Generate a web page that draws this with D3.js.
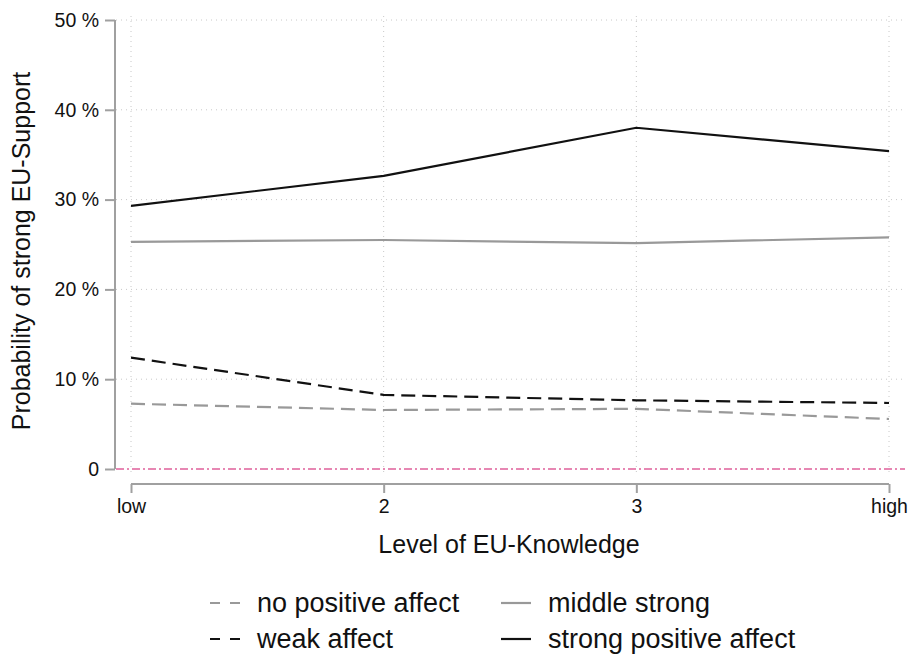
<!DOCTYPE html>
<html><head><meta charset="utf-8">
<script src="https://cdn.jsdelivr.net/npm/d3@7"></script>
<style>body{margin:0;background:#fff}svg{display:block}text{font-family:"Liberation Sans",Arial,sans-serif;fill:#111}</style>
</head><body>
<script>
const categories = ["low", "2", "3", "high"];
const yTicks = [0, 10, 20, 30, 40, 50];
const seriesNames = ["no positive affect", "middle strong", "weak affect", "strong positive affect"];
const noPositive = [7.27, 6.57, 6.7, 5.57];
const middleStrong = [25.3, 25.5, 25.15, 25.8];
const weakAffect = [12.4, 8.25, 7.65, 7.35];
const strongPositive = [29.3, 32.65, 38.0, 35.4];

const W = 911, H = 656;
const FONT = '"Liberation Sans",Arial,sans-serif';
const svg = d3.select("body").append("svg").attr("width", W).attr("height", H);
const x = d3.scalePoint().domain(categories).range([131, 889]);
const y = d3.scaleLinear().domain([0, 50]).range([469, 20]);

// grid
const g = svg.append("g");
g.selectAll(".hg").data(yTicks.filter(d => d > 0)).enter().append("line")
  .attr("x1", 116).attr("x2", 905).attr("y1", d => y(d)).attr("y2", d => y(d))
  .attr("stroke", "#c8c8c8").attr("stroke-width", 1).attr("stroke-dasharray", "1,4");
g.selectAll(".vg").data(categories).enter().append("line")
  .attr("x1", d => x(d)).attr("x2", d => x(d)).attr("y1", 16).attr("y2", 476)
  .attr("stroke", "#c8c8c8").attr("stroke-width", 1).attr("stroke-dasharray", "1,4");

// y axis
const yAxis = svg.append("g").attr("transform", "translate(115,0)")
  .call(d3.axisLeft(y).tickValues(yTicks).tickSize(10).tickPadding(6)
    .tickFormat(d => d === 0 ? "0" : d + " %"));
yAxis.select(".domain").attr("stroke", "#a0a0a0").attr("stroke-width", 2).attr("d", `M0,${y(50)}V${y(0)}`);
yAxis.selectAll(".tick line").attr("stroke", "#a0a0a0").attr("stroke-width", 2);
yAxis.selectAll(".tick text").attr("font-size", 19.5).style("font-family", FONT).attr("fill", "#111");

// x axis
const xAxis = svg.append("g").attr("transform", "translate(0,484)")
  .call(d3.axisBottom(x).tickSize(9).tickPadding(6));
xAxis.select(".domain").attr("stroke", "#a0a0a0").attr("stroke-width", 2).attr("d", `M${x("low")},0H${x("high")}`);
xAxis.selectAll(".tick line").attr("stroke", "#a0a0a0").attr("stroke-width", 2);
xAxis.selectAll(".tick text").attr("font-size", 19.5).style("font-family", FONT).attr("fill", "#111");

// zero reference line
svg.append("line").attr("x1", 116).attr("x2", 905).attr("y1", y(0)).attr("y2", y(0))
  .attr("stroke", "#e0609a").attr("stroke-width", 1.3).attr("stroke-dasharray", "8,3,2,3");

// axis titles
svg.append("text").attr("x", 509).attr("y", 553).attr("text-anchor", "middle").attr("font-size", 25).text("Level of EU-Knowledge");
svg.append("text").attr("transform", "translate(30,251) rotate(-90)").attr("text-anchor", "middle").attr("font-size", 25).text("Probability of strong EU-Support");

const series = [
  {name: seriesNames[0], vals: noPositive, color: "#999999", dash: "14,7"},
  {name: seriesNames[1], vals: middleStrong, color: "#999999", dash: null},
  {name: seriesNames[2], vals: weakAffect, color: "#111111", dash: "14,7"},
  {name: seriesNames[3], vals: strongPositive, color: "#111111", dash: null}
];
const line = d3.line().x((d, i) => x(categories[i])).y(d => y(d));
svg.selectAll(".series").data(series).enter().append("path")
  .attr("d", d => line(d.vals)).attr("fill", "none")
  .attr("stroke", d => d.color).attr("stroke-width", 2.2)
  .attr("stroke-dasharray", d => d.dash);

// legend
const legPos = [[210, 603], [501, 603], [210, 639], [501, 639]];
series.forEach((s, i) => {
  const [lx, ly] = legPos[i];
  svg.append("line").attr("x1", lx).attr("x2", lx + 30).attr("y1", ly).attr("y2", ly)
    .attr("stroke", s.color).attr("stroke-width", 2.2).attr("stroke-dasharray", s.dash ? "10,10" : null);
  svg.append("text").attr("x", lx + 47).attr("y", ly + 9).attr("font-size", 27).text(s.name);
});
</script>
</body></html>
